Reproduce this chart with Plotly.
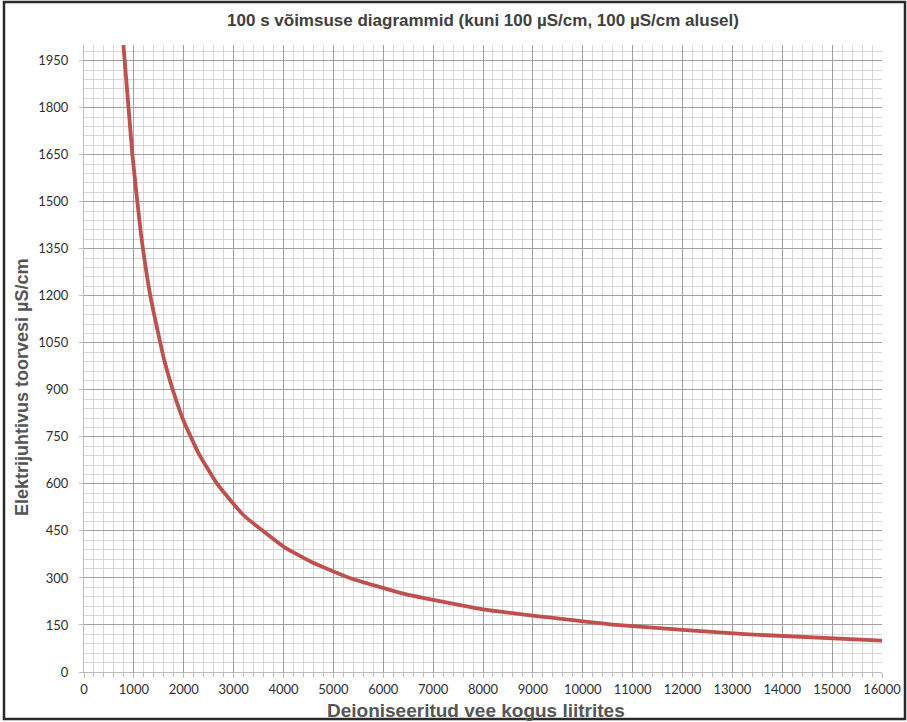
import plotly.graph_objects as go

# Data
liters = [790, 970, 1140, 1330, 1600, 1780, 2000, 2290, 2670, 3200, 4000, 4570,
          5330, 6400, 8000, 10670, 13330, 16000]
conductivity = [2000, 1650, 1400, 1200, 1000, 900, 800, 700, 600, 500, 400, 350,
                300, 250, 200, 150, 120, 100]

x_ticks = list(range(0, 16001, 1000))
y_ticks = list(range(0, 1951, 150))

W, H = 913, 722
L, R, T, B = 84, 25, 45, 50
pw = 798            # rendered plot-area width (right edge at 882 px)
ph = H - T - B

fig = go.Figure()
fig.add_trace(go.Scatter(
    x=liters, y=conductivity, mode="lines",
    line=dict(color="#C0504D", width=3.8, shape="spline", smoothing=0.4),
    hoverinfo="x+y", showlegend=False,
))

tick_font = dict(family="Lato, Open Sans, sans-serif", size=13, color="#303030")
fig.update_layout(
    width=W, height=H,
    margin=dict(l=L, r=R, t=T, b=B),
    paper_bgcolor="white", plot_bgcolor="white",
    title=dict(text="100 s võimsuse diagrammid (kuni 100 µS/cm, 100 µS/cm alusel)",
               xref="paper", x=0.5, xanchor="center",
               y=1 - 20 / H, yanchor="middle",
               font=dict(family="Liberation Sans, Arial, sans-serif", size=17,
                         color="#404040", weight="bold")),
    xaxis=dict(
        range=[0, 16000], tickvals=x_ticks, ticktext=[str(v) for v in x_ticks],
        showgrid=True, gridcolor="#a0a0a0", gridwidth=1,
        minor=dict(dtick=200, showgrid=True, gridcolor="#d6d6d6", gridwidth=1,
                   ticks="outside", ticklen=4, tickcolor="#bbbbbb"),
        ticks="outside", ticklen=5, tickcolor="#bbbbbb",
        showline=True, linecolor="#bbbbbb", linewidth=1,
        zeroline=False, tickfont=tick_font,
    ),
    yaxis=dict(
        range=[0, 2000], tickvals=y_ticks, ticktext=[str(v) for v in y_ticks],
        showgrid=True, gridcolor="#a0a0a0", gridwidth=1,
        minor=dict(dtick=30, showgrid=True, gridcolor="#d6d6d6", gridwidth=1),
        ticks="outside", ticklen=4, tickcolor="#bbbbbb",
        showline=True, linecolor="#bbbbbb", linewidth=1,
        zeroline=False, tickfont=tick_font, ticklabelstandoff=8,
    ),
    annotations=[
        dict(text="Elektrijuhtivus toorvesi µS/cm", textangle=-90,
             xref="paper", yref="paper", x=(22 - L) / pw, y=(672 - 388) / ph,
             xanchor="center", yanchor="middle", showarrow=False,
             font=dict(family="Liberation Sans, Arial, sans-serif", size=18,
                       color="#555555", weight="bold")),
        dict(text="Deioniseeritud vee kogus liitrites",
             xref="paper", yref="paper", x=(476 - L) / pw, y=(672 - 710) / ph,
             xanchor="center", yanchor="middle", showarrow=False,
             font=dict(family="Liberation Sans, Arial, sans-serif", size=19,
                       color="#555555", weight="bold")),
    ],
    shapes=[dict(
        type="rect", xref="paper", yref="paper", layer="above",
        x0=(4 - L) / pw, x1=(905 - L) / pw,
        y0=(T + ph - 719) / ph, y1=(T + ph - 2) / ph,
        line=dict(color="#2a2a2a", width=2.5),
    )],
)

fig.write_html(
    "out.html",
    config={"displayModeBar": False},
    post_script="document.body.style.margin='0px';",
)
